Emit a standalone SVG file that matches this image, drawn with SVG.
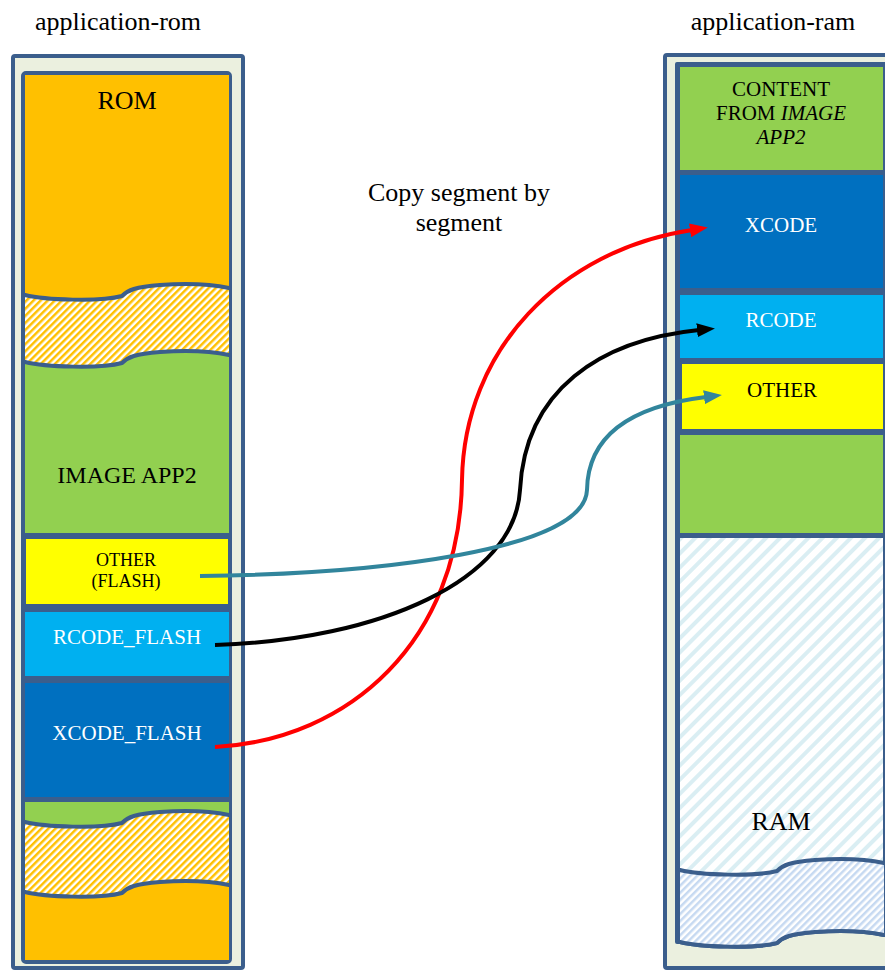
<svg xmlns="http://www.w3.org/2000/svg" width="885" height="972" viewBox="0 0 885 972">
<style>
.frame{fill:#3B5E8C;stroke:#3B5E8C;stroke-width:4;stroke-linejoin:round}
.outer{fill:#EBF0DF;stroke:#3B5E8C;stroke-width:4}
.wave{fill:none;stroke:#3B5E8C;stroke-width:4;stroke-linecap:round}
.t{font-family:"Liberation Serif","Times New Roman",serif;text-anchor:middle}
.w{fill:#FFFFFF}
.k{fill:#000000}
</style>
<defs>
<pattern id="hatchOrange" width="5" height="5" patternUnits="userSpaceOnUse" patternTransform="rotate(45)">
<rect width="5" height="5" fill="#FFFFFF"/><rect width="2.5" height="5" fill="#FFC000"/>
</pattern>
<pattern id="hatchRam" width="10" height="10" patternUnits="userSpaceOnUse" patternTransform="rotate(45)">
<rect width="10" height="10" fill="#FFFFFF"/><rect width="4" height="10" fill="#DAEEF3"/>
</pattern>
<pattern id="hatchRam2" width="5" height="5" patternUnits="userSpaceOnUse" patternTransform="rotate(45)">
<rect width="5" height="5" fill="#FFFFFF"/><rect width="2.5" height="5" fill="#C6D9F1"/>
</pattern>
<path id="waveL" d="M0 0 C20 5 75 7 97 1 C103 -5 110 -8 135 -10 C165 -12 190 -10 204 -7"/>
<marker id="arrowRed" markerUnits="userSpaceOnUse" markerWidth="18" markerHeight="14" refX="2" refY="7" orient="auto" viewBox="0 0 18 14"><path d="M0 0 L18 7 L0 14 z" fill="#FF0000"/></marker>
<marker id="arrowBlack" markerUnits="userSpaceOnUse" markerWidth="18" markerHeight="14" refX="2" refY="7" orient="auto" viewBox="0 0 18 14"><path d="M0 0 L18 7 L0 14 z" fill="#000000"/></marker>
<marker id="arrowTeal" markerUnits="userSpaceOnUse" markerWidth="18" markerHeight="14" refX="2" refY="7" orient="auto" viewBox="0 0 18 14"><path d="M0 0 L18 7 L0 14 z" fill="#31859C"/></marker>
</defs>
<rect width="885" height="972" fill="#FFFFFF"/>

<text class="t k" x="118" y="30" font-size="26">application-rom</text>
<text class="t k" x="773" y="30" font-size="26">application-ram</text>

<g id="application-rom">
<rect class="outer" x="13" y="56" width="230" height="912" rx="2"/>
<rect class="frame" x="23" y="73" width="207" height="889" rx="3"/>
</g>

<g id="rom-top">
<rect x="25" y="280" width="204" height="90" fill="url(#hatchOrange)"/>
<path transform="translate(25,295)" d="M0 0 C20 5 75 7 97 1 C103 -5 110 -8 135 -10 C165 -12 190 -10 204 -7 V-220 H0 Z" fill="#FFC000"/>
<text class="t k" x="127" y="109" font-size="26">ROM</text>
</g>

<g id="image-app2">
<path transform="translate(25,362)" d="M0 0 C20 5 75 7 97 1 C103 -5 110 -8 135 -10 C165 -12 190 -10 204 -7 V171 H0 Z" fill="#92D050"/>
<use href="#waveL" class="wave" transform="translate(25,295)"/>
<use href="#waveL" class="wave" transform="translate(25,362)"/>
<text class="t k" x="127" y="483" font-size="24">IMAGE APP2</text>
</g>

<g id="other-flash">
<rect x="26" y="539" width="202" height="65" fill="#FFFF00"/>
<text class="t k" x="126" y="566" font-size="18">OTHER</text>
<text class="t k" x="126" y="587" font-size="18">(FLASH)</text>
</g>

<g id="rcode-flash">
<rect x="25" y="612" width="204" height="64" fill="#00B0F0"/>
<text class="t w" x="127" y="644" font-size="21">RCODE_FLASH</text>
</g>

<g id="xcode-flash">
<rect x="25" y="683" width="204" height="114" fill="#0070C0"/>
<text class="t w" x="127" y="740" font-size="21">XCODE_FLASH</text>
</g>

<g id="rom-bottom">
<rect x="25" y="802" width="204" height="30" fill="#92D050"/>
<path transform="translate(25,822)" d="M0 0 C20 5 75 7 97 1 C103 -5 110 -8 135 -10 C165 -12 190 -10 204 -7 V80 H0 Z" fill="url(#hatchOrange)"/>
<path transform="translate(25,892)" d="M0 0 C20 5 75 7 97 1 C103 -5 110 -8 135 -10 C165 -12 190 -10 204 -7 V68 H0 Z" fill="#FFC000"/>
<use href="#waveL" class="wave" transform="translate(25,822)"/>
<use href="#waveL" class="wave" transform="translate(25,892)"/>
</g>

<g id="application-ram">
<rect class="outer" x="665" y="55" width="232" height="913" rx="2"/>
<path class="frame" transform="translate(680,942)" d="M-3 -878 H210 V-7 L204 -7 C190 -10 165 -12 135 -10 C110 -8 103 -5 97 1 C75 7 20 5 0 0 L-3 0 Z"/>
</g>

<g id="content-app2">
<rect x="680" y="67" width="203" height="103" fill="#92D050"/>
<text class="t k" x="781" y="96" font-size="21">CONTENT</text>
<text class="t k" x="781" y="120" font-size="21">FROM <tspan font-style="italic">IMAGE</tspan></text>
<text class="t k" x="781" y="144" font-size="21" font-style="italic">APP2</text>
</g>

<g id="xcode">
<rect x="680" y="175" width="203" height="113" fill="#0070C0"/>
<text class="t w" x="781" y="232" font-size="21">XCODE</text>
</g>

<g id="rcode">
<rect x="680" y="295" width="203" height="63" fill="#00B0F0"/>
<text class="t w" x="781" y="327" font-size="21">RCODE</text>
</g>

<g id="other">
<rect x="682" y="364" width="201" height="65" fill="#FFFF00"/>
<text class="t k" x="782" y="397" font-size="21">OTHER</text>
</g>

<g id="ram-green">
<rect x="680" y="435" width="203" height="98" fill="#92D050"/>
</g>

<g id="ram">
<rect x="680" y="538" width="203" height="340" fill="url(#hatchRam)"/>
<path transform="translate(680,870)" d="M0 0 C20 5 75 7 97 1 C103 -5 110 -8 135 -10 C165 -12 190 -10 204 -7 V63 C190 62 165 60 135 62 C110 64 103 67 97 73 C75 79 20 77 0 72 Z" fill="url(#hatchRam2)"/>
<use href="#waveL" class="wave" transform="translate(680,870)"/>
<use href="#waveL" class="wave" transform="translate(680,942)"/>
<text class="t k" x="781" y="830" font-size="26">RAM</text>
</g>

<text class="t k" x="459" y="201" font-size="26">Copy segment by</text>
<text class="t k" x="459" y="231" font-size="26">segment</text>

<g id="connectors" fill="none" stroke-width="4">
<path d="M215 747 C350 740 460 640 462 480 C464 350 560 250 692 230" stroke="#FF0000" marker-end="url(#arrowRed)"/>
<path d="M215 645 C380 640 515 580 520 490 C525 390 600 340 699 330" stroke="#000000" marker-end="url(#arrowBlack)"/>
<path d="M200 576 C380 574 585 550 587 490 C588 430 640 405 706 397" stroke="#31859C" marker-end="url(#arrowTeal)"/>
</g>
</svg>
